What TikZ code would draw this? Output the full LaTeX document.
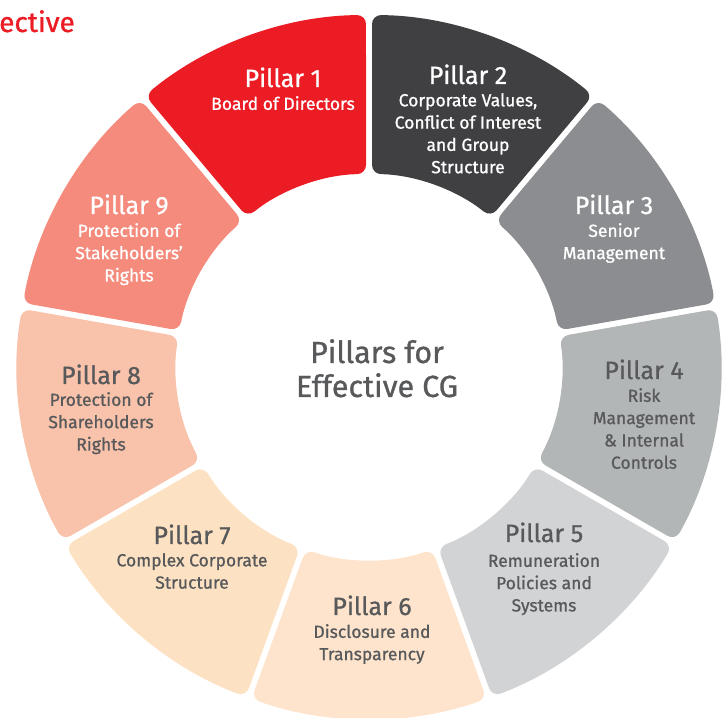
\documentclass[tikz,border=0pt]{standalone}
\usepackage{fontspec}
\setmainfont{Fira Sans}
\newfontfamily\medfont{Fira Sans}[FakeBold=0.9]
\definecolor{p1}{HTML}{EC1C24}
\definecolor{p2}{HTML}{404043}
\definecolor{p3}{HTML}{8C8D90}
\definecolor{p4}{HTML}{B3B6B6}
\definecolor{p5}{HTML}{D1D3D4}
\definecolor{p6}{HTML}{FEE4CC}
\definecolor{p7}{HTML}{FDE1C3}
\definecolor{p8}{HTML}{F9C2AA}
\definecolor{p9}{HTML}{F48B7C}
\definecolor{txtgray}{HTML}{58595B}
\tikzset{
  ptitle/.style={anchor=base, inner sep=0pt, font=\medfont\fontsize{25}{28}\selectfont},
  pbody/.style={anchor=north, inner sep=0pt, align=center, font=\medfont\fontsize{17.5}{22.3}\selectfont},
  ondark/.style={text=white},
  onlight/.style={text=txtgray}
}
\begin{document}
\begin{tikzpicture}[x=1pt,y=1pt]
\useasboundingbox (0,0) rectangle (725,717);
\begin{scope}[shift={(369,350)}]
\def\R{352}\def\r{193}\def\do{0.49}\def\di{0.89}
\foreach \a/\col in {90/p1,50/p2,10/p3,-30/p4,-70/p5,-110/p6,-150/p7,-190/p8,130/p9}{
  \fill[\col, rounded corners=9pt] (\a+\do:\R) arc[start angle=\a+\do, end angle=\a+40-\do, radius=\R]
     -- (\a+40-\di:\r) arc[start angle=\a+40-\di, end angle=\a+\di, radius=\r] -- cycle;
}
\end{scope}
% header fragment
\node[anchor=base west, inner sep=0pt, text=p1, font=\medfont\fontsize{28}{32}\selectfont] (hdr) at (-1,685) {ective};
% Pillar 1
\node[ptitle, ondark] (t1) at (283,630) {Pillar 1};
\node[pbody, ondark] (b1) at (283,621) {Board of Directors};
% Pillar 2
\node[ptitle, ondark] (t2) at (468,633) {Pillar 2};
\node[pbody, ondark] (b2) at (468,624) {Corporate Values,\\Conflict of Interest\\and Group\\Structure};
% Pillar 3
\node[ptitle, ondark] (t3) at (614,503) {Pillar 3};
\node[pbody, ondark] (b3) at (614,494) {Senior\\Management};
% Pillar 4
\node[ptitle, onlight] (t4) at (644,338) {Pillar 4};
\node[pbody, onlight] (b4) at (644,329) {Risk\\Management\\\& Internal\\Controls};
% Pillar 5
\node[ptitle, onlight] (t5) at (544,175) {Pillar 5};
\node[pbody, onlight] (b5) at (544,164) {Remuneration\\Policies and\\Systems};
% Pillar 6
\node[ptitle, onlight] (t6) at (372,102) {Pillar 6};
\node[pbody, onlight] (b6) at (372,93) {Disclosure and\\Transparency};
% Pillar 7
\node[ptitle, onlight] (t7) at (192,173) {Pillar 7};
\node[pbody, onlight] (b7) at (192,164) {Complex Corporate\\Structure};
% Pillar 8
\node[ptitle, onlight] (t8) at (101,333) {Pillar 8};
\node[pbody, onlight] (b8) at (101,325) {Protection of\\Shareholders\\Rights};
% Pillar 9
\node[ptitle, ondark] (t9) at (129,503) {Pillar 9};
\node[pbody, ondark] (b9) at (129,494) {Protection of\\Stakeholders’\\Rights};
% centre
\node[anchor=north, inner sep=0pt, align=center, text=txtgray, font=\medfont\fontsize{30.5}{34}\selectfont] (ctr) at (377,378) {Pillars for\\Effective CG};
\end{tikzpicture}
\end{document}
